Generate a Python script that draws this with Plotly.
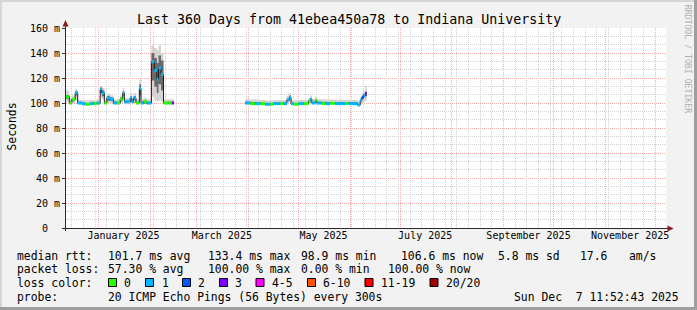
import plotly.graph_objects as go

START = "2024-12-12 11:52:43"
END = "2025-12-07 11:52:43"

TITLE = "Last 360 Days from 41ebea450a78 to Indiana University"

LOSS_COLORS = ["#26ff00", "#00b8ff", "#0059ff", "#7e00ff", "#ff00ff", "#ff5500", "#ff0000", "#a10000"]
LOSS_LABELS = ["0", "1", "2", "3", "4-5", "6-10", "11-19", "20/20"]

Y_TICKS = [0, 20, 40, 60, 80, 100, 120, 140, 160]
Y_TICK_TEXT = ["0\u00a0\u00a0", "20 m", "40 m", "60 m", "80 m", "100 m", "120 m", "140 m", "160 m"]

MONTH_STARTS = ["2025-01-01", "2025-02-01", "2025-03-01", "2025-04-01", "2025-05-01", "2025-06-01",
                "2025-07-01", "2025-08-01", "2025-09-01", "2025-10-01", "2025-11-01", "2025-12-01"]
MONTH_LABEL_DATES = ["2025-01-16", "2025-03-16", "2025-05-16", "2025-07-16", "2025-09-16", "2025-11-16"]
MONTH_LABELS = ["January 2025", "March 2025", "May 2025", "July 2025", "September 2025", "November 2025"]

# ---- segment 1 (Dec 2024 - Feb 2025): interval start, median ms, loss bucket, smoke range, smoke core
S1_T = ["2024-12-12 11:52", "2024-12-14 12:00", "2024-12-16 00:00", "2024-12-18 00:00", "2024-12-19 12:00",
        "2024-12-22 00:00", "2024-12-24 00:00", "2024-12-27 00:00", "2024-12-29 00:00", "2024-12-31 00:00",
        "2025-01-02 00:00", "2025-01-03 00:00", "2025-01-04 12:00", "2025-01-06 00:00", "2025-01-08 00:00",
        "2025-01-10 00:00", "2025-01-12 00:00", "2025-01-14 00:00", "2025-01-15 12:00", "2025-01-16 12:00",
        "2025-01-18 12:00", "2025-01-20 00:00", "2025-01-21 00:00", "2025-01-22 00:00", "2025-01-23 12:00",
        "2025-01-25 12:00", "2025-01-26 12:00", "2025-01-28 00:00", "2025-01-30 00:00", "2025-02-01 18:00",
        "2025-02-03 12:00", "2025-02-05 00:00", "2025-02-06 00:00", "2025-02-07 12:00", "2025-02-09 00:00",
        "2025-02-12 00:00", "2025-02-14 00:00"]
S1_END = "2025-02-15 06:00"
S1_MED = [105, 100, 103, 108, 100, 99.5, 99, 99.5, 99.5, 100,
          111, 108, 100, 104, 103, 100, 100, 103, 108, 101,
          101, 104, 101, 104, 100, 111.5, 100, 101, 100, 133,
          126, 119, 128, 123, 100, 100, 100]
S1_LOSS = [0, 0, 0, 1, 1, 1, 0, 1, 0, 1,
           1, 1, 0, 1, 1, 1, 0, 0, 1, 1,
           1, 1, 1, 1, 0, 1, 1, 0, 1, 1,
           1, 1, 1, 1, 0, 0, 3]
S1_LO = [101, 99, 100, 102, 99, 98.5, 98, 98.5, 98.5, 99,
         104, 103, 99, 100, 100, 99, 99, 100, 103, 99,
         99, 100, 99, 100, 99, 103, 99, 99, 99, 105,
         102, 101, 102, 101, 99, 99, 99]
S1_HI = [110, 103.5, 106, 111, 103, 102.5, 102, 102.5, 102.5, 103,
         114, 112, 103, 107.5, 106, 103, 103, 106, 112, 104,
         104, 108, 104, 108, 103, 119, 103, 104, 103, 146,
         144, 142, 146, 140, 103, 103, 103]
S1_CLO = [103.5, 99.5, 101.5, 106, 99.5, 99, 98.5, 99, 99, 99.5,
          108, 105.5, 99.5, 102, 101.5, 99.5, 99.5, 101.5, 106, 100,
          100, 102, 100, 102, 99.5, 106, 99.5, 100, 99.5, 118,
          113, 108, 115, 110, 99.5, 99.5, 99.5]
S1_CHI = [106.5, 101, 104, 109.5, 101, 100.5, 99.8, 100.5, 100.5, 101,
          112.5, 110, 101, 105.5, 104.5, 101, 101, 104.5, 109.5, 102,
          102, 105.5, 102, 105.5, 101, 115, 101, 102, 101, 140,
          136, 132, 138, 134, 101, 101, 101]

# ---- segment 2 (Mar - Jun 2025)
S2_T = ["2025-03-30 00:00", "2025-04-02 00:00", "2025-04-05 00:00", "2025-04-08 00:00", "2025-04-11 00:00",
        "2025-04-14 00:00", "2025-04-16 00:00", "2025-04-20 00:00", "2025-04-22 00:00", "2025-04-24 00:00",
        "2025-04-25 12:00", "2025-04-26 12:00", "2025-04-28 00:00", "2025-05-01 00:00", "2025-05-04 00:00",
        "2025-05-07 00:00", "2025-05-08 00:00", "2025-05-09 00:00", "2025-05-11 00:00", "2025-05-12 00:00",
        "2025-05-15 00:00", "2025-05-17 00:00", "2025-05-20 00:00", "2025-05-23 00:00", "2025-05-29 00:00",
        "2025-05-31 00:00", "2025-06-05 12:00", "2025-06-07 00:00", "2025-06-08 00:00", "2025-06-09 00:00",
        "2025-06-10 00:00"]
S2_END = "2025-06-11 00:00"
S2_MED = [100, 99.5, 99.5, 99.5, 99, 99, 99.5, 99.5, 99.5, 102.5,
          104.5, 99.5, 99, 99.5, 99.5, 101.5, 103, 100, 102, 100,
          99.5, 99.5, 99.8, 99.5, 99.5, 99.5, 98.5, 102, 104.5, 106,
          107.5]
S2_LOSS = [1, 0, 1, 0, 1, 0, 1, 0, 1, 1,
           1, 1, 0, 1, 0, 0, 1, 1, 0, 1,
           0, 1, 0, 1, 0, 1, 1, 1, 2, 1,
           3]
S2_LO = [99, 98.5, 98.5, 98.5, 98, 98, 98.5, 98.5, 98.5, 100,
         101, 98.5, 98, 98.5, 98.5, 99, 100, 99, 99, 99,
         98.5, 98.5, 98.8, 98.5, 98.5, 98.5, 97.5, 99, 100, 101,
         102]
S2_HI = [103, 102.5, 102.5, 102.5, 102, 102, 102.5, 102.5, 102.5, 106,
         108, 102.5, 102, 102.5, 102.5, 104, 106, 103, 105, 103,
         102.5, 102.5, 102.8, 102.5, 102.5, 102.5, 101.5, 105, 108, 110,
         114]
S2_CLO = [99.5, 99, 99, 99, 98.5, 98.5, 99, 99, 99, 101.5,
          103, 99, 98.5, 99, 99, 100.5, 102, 99.5, 101, 99.5,
          99, 99, 99.3, 99, 99, 99, 98, 101, 103, 104.5,
          105.5]
S2_CHI = [101, 100.5, 100.5, 100.5, 99.8, 99.8, 100.5, 100.5, 100.5, 103.5,
          106, 100.5, 99.8, 100.5, 100.5, 102.5, 104, 101, 103, 101,
          100.5, 100.5, 100.8, 100.5, 100.5, 100.5, 99.2, 103, 106, 107.5,
          109]

STATS_RTT = ["101.7 ms avg", "133.4 ms max", "98.9 ms min", "106.6 ms now", "5.8 ms sd", "17.6", "am/s"]
STATS_LOSS = ["57.30 % avg", "100.00 % max", "0.00 % min", "100.00 % now"]
PROBE = "20 ICMP Echo Pings (56 Bytes) every 300s"
STAMP = "Sun Dec \u00a07 11:52:43 2025"

SEGMENTS = [
    (S1_T, S1_END, S1_MED, S1_LOSS, S1_LO, S1_HI, S1_CLO, S1_CHI),
    (S2_T, S2_END, S2_MED, S2_LOSS, S2_LO, S2_HI, S2_CLO, S2_CHI),
]

FONT = "DejaVu Sans Mono"
L, T, PW, PH = 66, 28, 600, 200


def px(p):
    return (p - L) / PW


def py(p):
    return (T + PH - p) / PH


def steps(ts, end, vals):
    xs, ys = [], []
    for k, v in enumerate(vals):
        t1 = ts[k + 1] if k + 1 < len(ts) else end
        xs += [ts[k], t1]
        ys += [v, v]
    return xs, ys


fig = go.Figure()

for ts, end, med, loss, lo, hi, clo, chi in SEGMENTS:
    for blo, bhi, col in ((lo, hi, "#d4d4d4"), (clo, chi, "#6a6a6a")):
        ux, uy = steps(ts, end, bhi)
        lx, ly = steps(ts, end, blo)
        fig.add_trace(go.Scatter(x=ux + lx[::-1], y=uy + ly[::-1], fill="toself", fillcolor=col,
                                 mode="lines", line=dict(width=0), hoverinfo="skip"))

for ts, end, med, loss, lo, hi, clo, chi in SEGMENTS:
    mx, my = steps(ts, end, med)
    fig.add_trace(go.Scatter(x=mx, y=my, mode="lines", line=dict(color="#202020", width=1),
                             hoverinfo="skip"))

for lvl, col in enumerate(LOSS_COLORS):
    xs, ys = [], []
    for ts, end, med, loss, lo, hi, clo, chi in SEGMENTS:
        for k, v in enumerate(med):
            if loss[k] == lvl:
                t1 = ts[k + 1] if k + 1 < len(ts) else end
                xs += [ts[k], t1, None]
                ys += [v, v, None]
    if xs:
        fig.add_trace(go.Scatter(x=xs, y=ys, mode="lines", line=dict(color=col, width=3),
                                 hoverinfo="skip"))

# dummy traces to register overlay axes used for grids
fig.add_trace(go.Scatter(x=[START], y=[0], xaxis="x2", mode="markers", marker=dict(opacity=0),
                         hoverinfo="skip"))
fig.add_trace(go.Scatter(x=[START], y=[0], xaxis="x3", mode="markers", marker=dict(opacity=0),
                         hoverinfo="skip"))

grid_gray = "#d2d2d2"
grid_red = "#f6aaaa"

fig.update_layout(
    width=697, height=310,
    margin=dict(l=66, r=31, t=28, b=82),
    paper_bgcolor="#f2f2f2", plot_bgcolor="#ffffff",
    showlegend=False,
    font=dict(family=FONT, color="#000000"),
    xaxis=dict(type="date", range=[START, END], tickmode="array", tickvals=MONTH_LABEL_DATES,
               ticktext=MONTH_LABELS, ticks="", showgrid=False, zeroline=False, showline=False,
               tickfont=dict(size=10, family=FONT), ticklabelstandoff=0),
    xaxis2=dict(type="date", overlaying="x", matches="x", tickmode="linear", tick0="2024-12-16",
                dtick=7 * 86400000, showgrid=True, gridcolor=grid_gray, griddash="1px,1px",
                showticklabels=False, ticks="", zeroline=False),
    xaxis3=dict(type="date", overlaying="x", matches="x", tickmode="array", tickvals=MONTH_STARTS,
                showgrid=True, gridcolor=grid_red, griddash="1px,1px",
                showticklabels=False, ticks="", zeroline=False),
    yaxis=dict(range=[0, 160], tickmode="array", tickvals=Y_TICKS, ticktext=Y_TICK_TEXT,
               showgrid=True, gridcolor=grid_red, griddash="1px,1px", zeroline=False,
               ticks="outside", ticklen=3, tickcolor="#333333",
               tickfont=dict(size=10, family=FONT),
               minor=dict(tickmode="linear", tick0=0, dtick=20 / 3, showgrid=True,
                          gridcolor=grid_gray, griddash="1px,1px", ticks="")),
)

shapes = []
# frame
shapes.append(dict(type="rect", xref="paper", yref="paper", x0=px(0), x1=px(697), y0=py(0), y1=py(2),
                   fillcolor="#d6d6d6", line=dict(width=0), layer="above"))
shapes.append(dict(type="rect", xref="paper", yref="paper", x0=px(0), x1=px(2), y0=py(0), y1=py(310),
                   fillcolor="#d6d6d6", line=dict(width=0), layer="above"))
shapes.append(dict(type="rect", xref="paper", yref="paper", x0=px(0), x1=px(697), y0=py(307), y1=py(310),
                   fillcolor="#9e9e9e", line=dict(width=0), layer="above"))
shapes.append(dict(type="rect", xref="paper", yref="paper", x0=px(694), x1=px(697), y0=py(0), y1=py(310),
                   fillcolor="#9e9e9e", line=dict(width=0), layer="above"))
# axes
shapes.append(dict(type="line", xref="paper", yref="paper", x0=px(62), x1=px(668), y0=py(228.5), y1=py(228.5),
                   line=dict(color="#2a2a2a", width=1), layer="above"))
shapes.append(dict(type="line", xref="paper", yref="paper", x0=px(65.5), x1=px(65.5), y0=py(231), y1=py(24),
                   line=dict(color="#2a2a2a", width=1), layer="above"))
shapes.append(dict(type="path", xref="paper", yref="paper",
                   path=f"M {px(65.5)},{py(20)} L {px(62.5)},{py(26.5)} L {px(68.5)},{py(26.5)} Z",
                   fillcolor="#8b1c1c", line=dict(width=0), layer="above"))
shapes.append(dict(type="path", xref="paper", yref="paper",
                   path=f"M {px(673.5)},{py(228.5)} L {px(667.5)},{py(225.5)} L {px(667.5)},{py(231.5)} Z",
                   fillcolor="#8b1c1c", line=dict(width=0), layer="above"))
# loss colour swatches
sw_x = [108.5, 145.5, 182.5, 219.5, 256.0, 307.5, 365.0, 430.0]
for xx, col in zip(sw_x, LOSS_COLORS):
    shapes.append(dict(type="rect", xref="paper", yref="paper", x0=px(xx), x1=px(xx + 8),
                       y0=py(278.5), y1=py(286.5), fillcolor=col, line=dict(color="#000000", width=1),
                       layer="above"))
fig.update_layout(shapes=shapes)

anns = []


def ann(text, x, y, size=11.4, xanchor="left", angle=0, color="#000000"):
    anns.append(dict(text=text, xref="paper", yref="paper", x=px(x), y=py(y), xanchor=xanchor,
                     yanchor="middle", showarrow=False, textangle=angle, borderpad=0,
                     font=dict(family=FONT, size=size, color=color)))


ann(TITLE, 348.5, 19, size=13.3, xanchor="center")
ann("Seconds", 11.5, 127, size=11.4, xanchor="center", angle=-90)
ann("RRDTOOL / TOBI OETIKER", 688.3, 59, size=8.2, xanchor="center", angle=90, color="#b0b0b0")

y1, y2, y3, y4 = 255.5, 269, 282.5, 296.5
ann("median rtt:", 16, y1)
for txt, xx in zip(STATS_RTT, [107.3, 207.3, 300, 400, 496.7, 579, 628.3]):
    ann(txt, xx, y1)
ann("packet loss:", 16, y2)
for txt, xx in zip(STATS_LOSS, [107.3, 207.3, 300, 386.7]):
    ann(txt, xx, y2)
ann("loss color:", 16, y3)
for lab, xx in zip(LOSS_LABELS, [123.3, 160.7, 197.3, 234.3, 270.7, 321.7, 380, 445]):
    ann(lab, xx, y3)
ann("probe:", 16, y4)
ann(PROBE, 107.3, y4)
ann(STAMP, 513.3, y4)

fig.update_layout(annotations=anns)

fig.write_html("out.html")
